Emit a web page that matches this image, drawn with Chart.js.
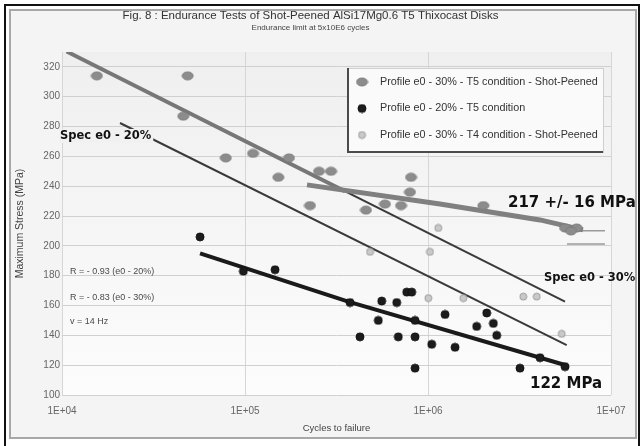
<!DOCTYPE html>
<html>
<head>
<meta charset="utf-8">
<script src="https://cdn.jsdelivr.net/npm/chart.js@4.4.1/dist/chart.umd.min.js"></script>
<style>
html, body { margin: 0; padding: 0; background: #fff; }
canvas { display: block; }
</style>
</head>
<body>
<canvas id="fatigueChart" width="642" height="446"></canvas>
<script>
// axes
const xTickValues = [1e4, 1e5, 1e6, 1e7];
const xTickLabels = ['1E+04', '1E+05', '1E+06', '1E+07'];
const yTickValues = [100, 120, 140, 160, 180, 200, 220, 240, 260, 280, 300, 320];

const legendLabels = [
    'Profile e0 - 30% - T5 condition - Shot-Peened',
    'Profile e0 - 20% - T5 condition',
    'Profile e0 - 30% - T4 condition - Shot-Peened'
];

// Profile e0 - 30% - T5 - shot-peened
const peenedT5Cycles = [15500, 48600, 46000, 78500, 110600, 173900, 152100, 253800, 295100, 226500,
    458300, 582100, 712000, 807500, 797300, 2006000, 5606000, 6494000, 6045000];
const peenedT5Stress = [314, 314, 287, 259, 262, 259, 246, 250, 250, 227,
    224, 228, 227, 246, 236, 227, 212, 212, 210];

// Profile e0 - 20% - T5
const t5Cycles = [56800, 97900, 145900, 374900, 558500, 674500, 764900, 814700, 535000, 425000,
    688000, 849200, 849200, 1047600, 1405000, 1239000, 849200, 1845000, 2094000, 2275000,
    2374000, 3182000, 4093000, 5606000];
const t5Stress = [206, 183, 184, 162, 163, 162, 169, 169, 150, 139,
    139, 139, 150, 134, 132, 154, 118, 146, 155, 148,
    140, 118, 125, 119];

// Profile e0 - 30% - T4 - shot-peened
const peenedT4Cycles = [482100, 1138000, 1025400, 1004000, 1560000, 3317000, 3926000, 5378000];
const peenedT4Stress = [196, 212, 196, 165, 165, 166, 166, 141];

// trend / spec lines
const specE030Cycles = [10610, 5606000];
const specE030Stress = [330.3, 162.6];
const steepFitCycles = [10610, 351900];
const steepFitStress = [330.3, 236.6];
const specE020Cycles = [20750, 5728000];
const specE020Stress = [282.4, 133.5];
const fitT5Cycles = [56800, 366800, 5606000];
const fitT5Stress = [195, 162.6, 120.1];
const fitPeenedCycles = [218200, 1163000, 4093000, 7030000];
const fitPeenedStress = [240.9, 228.1, 217.4, 210.7];
const upperMarkCycles = [6199000, 9271000];
const upperMarkStress = [210.2, 210.2];
const lowerMarkCycles = [5749000, 9271000];
const lowerMarkStress = [201.3, 201.3];

const sans = "'Liberation Sans', Arial, sans-serif";
const heavy = "'DejaVu Sans', sans-serif";

function toPoints(xs, ys) {
    return xs.map((x, i) => ({ x: x, y: ys[i] }));
}

function makeMarker(w, h, fill, stroke) {
    const c = document.createElement('canvas');
    c.width = w + 2; c.height = h + 2;
    const g = c.getContext('2d');
    g.beginPath();
    g.ellipse(c.width / 2, c.height / 2, w / 2, h / 2, 0, 0, Math.PI * 2);
    g.fillStyle = fill;
    g.fill();
    g.lineWidth = 1;
    g.strokeStyle = stroke;
    g.stroke();
    return c;
}

const ovalGray = makeMarker(11, 8, '#8c8c8c', '#7c7c7c');
const dotDark = makeMarker(8, 8, '#1c1c1c', '#111');
const dotLight = makeMarker(7, 7, '#c9c9c9', '#9c9c9c');
const markers = [ovalGray, dotDark, dotLight];

function lineSet(xs, ys, color, width, order) {
    return {
        data: toPoints(xs, ys),
        showLine: true,
        borderColor: color,
        borderWidth: width,
        pointRadius: 0,
        order: order
    };
}

const decor = {
    id: 'decor',
    beforeDraw(chart) {
        const { ctx, chartArea: a } = chart;
        ctx.save();
        ctx.fillStyle = '#fff';
        ctx.fillRect(0, 0, 642, 446);
        ctx.fillStyle = '#111';
        ctx.fillRect(4, 4, 636, 2);
        ctx.fillRect(4, 4, 2, 442);
        ctx.fillRect(638, 4, 2, 442);
        ctx.fillStyle = '#f4f4f4';
        ctx.fillRect(10, 10, 626, 428);
        ctx.strokeStyle = '#a8a8a8';
        ctx.lineWidth = 2;
        ctx.strokeRect(10, 10, 626, 428);
        const grad = ctx.createLinearGradient(0, a.top, 0, a.bottom);
        grad.addColorStop(0, '#efefef');
        grad.addColorStop(1, '#fcfcfc');
        ctx.fillStyle = grad;
        ctx.fillRect(a.left, a.top, a.right - a.left, a.bottom - a.top);
        ctx.restore();
    },
    afterDraw(chart) {
        const { ctx } = chart;
        ctx.save();

        // legend box
        const lx = 348, ly = 68, lw = 255, lh = 84;
        ctx.fillStyle = '#fafafa';
        ctx.fillRect(lx, ly, lw, lh);
        ctx.strokeStyle = '#cfcfcf';
        ctx.lineWidth = 1;
        ctx.strokeRect(lx + 0.5, ly + 0.5, lw, lh);
        ctx.strokeStyle = '#4a4a4a';
        ctx.lineWidth = 2;
        ctx.beginPath();
        ctx.moveTo(lx, ly);
        ctx.lineTo(lx, ly + lh);
        ctx.lineTo(lx + lw, ly + lh);
        ctx.stroke();
        const rows = [82, 108.5, 135];
        ctx.font = '10.8px ' + sans;
        ctx.fillStyle = '#333';
        ctx.textBaseline = 'middle';
        ctx.textAlign = 'left';
        legendLabels.forEach((t, i) => {
            const m = markers[i];
            ctx.drawImage(m, 362 - m.width / 2, rows[i] - m.height / 2);
            ctx.fillText(t, 380, rows[i]);
        });

        // statistics notes
        ctx.font = '9px ' + sans;
        ctx.fillStyle = '#4a4a4a';
        ctx.fillText('R = - 0.93 (e0 - 20%)', 70, 272);
        ctx.fillText('R = - 0.83 (e0 - 30%)', 70, 298);
        ctx.fillText('v = 14 Hz', 70, 322);

        // bold labels
        ctx.font = 'bold 11.5px ' + heavy;
        const spec20 = 'Spec e0 - 20%';
        const w20 = ctx.measureText(spec20).width;
        ctx.fillStyle = '#f1f1f1';
        ctx.fillRect(59, 129, w20 + 3, 14);
        ctx.fillStyle = '#111';
        ctx.fillText(spec20, 60, 136);
        ctx.fillText('Spec e0 - 30%', 544, 278);
        ctx.font = 'bold 15px ' + heavy;
        ctx.fillText('217 +/- 16 MPa', 508, 203);
        ctx.fillText('122 MPa', 530, 384);
        ctx.restore();
    }
};

new Chart(document.getElementById('fatigueChart'), {
    type: 'scatter',
    data: {
        datasets: [
            { label: legendLabels[0], data: toPoints(peenedT5Cycles, peenedT5Stress), pointStyle: ovalGray, order: 1 },
            { label: legendLabels[1], data: toPoints(t5Cycles, t5Stress), pointStyle: dotDark, order: 0 },
            { label: legendLabels[2], data: toPoints(peenedT4Cycles, peenedT4Stress), pointStyle: dotLight, order: 2 },
            lineSet(specE030Cycles, specE030Stress, '#3a3a3a', 2, 6),
            lineSet(steepFitCycles, steepFitStress, '#777', 4, 5),
            lineSet(specE020Cycles, specE020Stress, '#3a3a3a', 2, 6),
            lineSet(fitT5Cycles, fitT5Stress, '#1a1a1a', 4, 4),
            lineSet(fitPeenedCycles, fitPeenedStress, '#808080', 5, 4),
            lineSet(upperMarkCycles, upperMarkStress, '#9a9a9a', 1.5, 7),
            lineSet(lowerMarkCycles, lowerMarkStress, '#9a9a9a', 1.5, 7)
        ]
    },
    options: {
        responsive: false,
        animation: false,
        events: [],
        layout: { padding: { left: 10, right: 31, top: 0, bottom: 9 } },
        plugins: {
            legend: { display: false },
            tooltip: { enabled: false },
            title: {
                display: true,
                text: 'Fig. 8 : Endurance Tests of Shot-Peened AlSi17Mg0.6 T5 Thixocast Disks',
                color: '#333',
                font: { family: sans, size: 11.5, weight: 'normal' },
                padding: { top: 9, bottom: 0 }
            },
            subtitle: {
                display: true,
                text: 'Endurance limit at 5x10E6 cycles',
                color: '#444',
                font: { family: sans, size: 8 },
                padding: { top: 0, bottom: 19.6 }
            }
        },
        scales: {
            x: {
                type: 'logarithmic',
                min: 1e4,
                max: 1e7,
                afterBuildTicks(s) { s.ticks = xTickValues.map(v => ({ value: v })); },
                afterFit(s) { s.height = 42; },
                ticks: {
                    padding: 10,
                    maxRotation: 0,
                    autoSkip: false,
                    color: '#666',
                    font: { family: sans, size: 10 },
                    callback: v => xTickLabels[xTickValues.indexOf(v)]
                },
                grid: { color: '#d6d6d6', drawTicks: false },
                border: { display: false },
                title: {
                    display: true,
                    text: 'Cycles to failure',
                    color: '#444',
                    font: { family: sans, size: 9.5 },
                    padding: { top: 0, bottom: 3 }
                }
            },
            y: {
                min: 100,
                max: 330,
                afterBuildTicks(s) { s.ticks = yTickValues.map(v => ({ value: v })); },
                afterFit(s) { s.width = 52; },
                ticks: {
                    padding: 2,
                    color: '#666',
                    font: { family: sans, size: 10 }
                },
                grid: { color: '#d0d0d0', drawTicks: false },
                border: { display: false },
                title: {
                    display: true,
                    text: 'Maximum Stress (MPa)',
                    color: '#444',
                    font: { family: sans, size: 10.5 },
                    padding: { top: 4, bottom: 0 }
                }
            }
        }
    },
    plugins: [decor]
});
</script>
</body>
</html>
